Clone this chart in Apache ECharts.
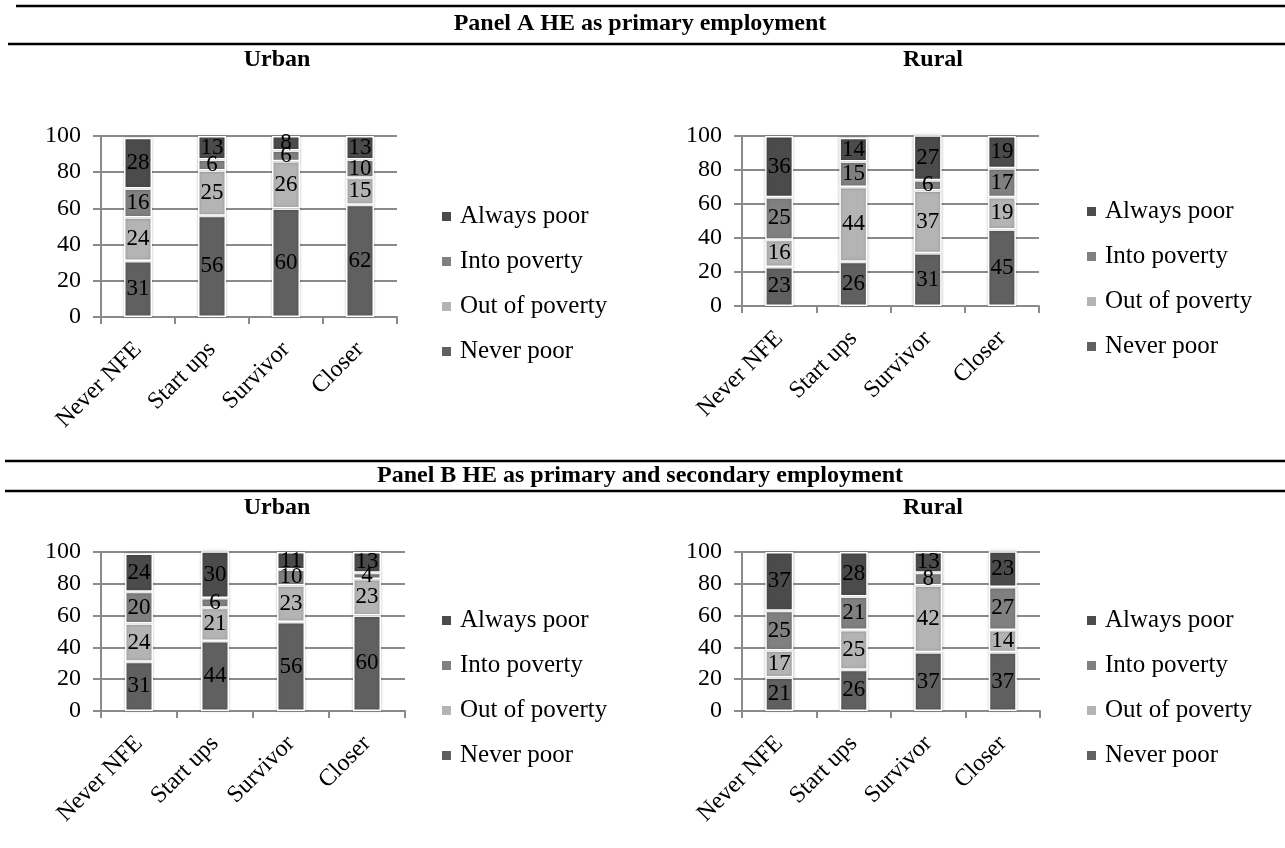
<!DOCTYPE html>
<html>
<head>
<meta charset="utf-8">
<script src="https://cdn.jsdelivr.net/npm/echarts@6/dist/echarts.min.js"></script>
<style>
html,body{margin:0;padding:0;background:#fff;}
#chart{width:1285px;height:848px;}
</style>
</head>
<body>
<div id="chart"></div>
<script>
// ---- Data ----
const categories = ['Never NFE', 'Start ups', 'Survivor', 'Closer'];
const legendNames = ['Always poor', 'Into poverty', 'Out of poverty', 'Never poor'];
const yTicks = [0, 20, 40, 60, 80, 100];

// Panel A, Urban
const aUrbanNever  = [31, 56, 60, 62];
const aUrbanOut    = [24, 25, 26, 15];
const aUrbanInto   = [16, 6, 6, 10];
const aUrbanAlways = [28, 13, 8, 13];
// Panel A, Rural
const aRuralNever  = [23, 26, 31, 45];
const aRuralOut    = [16, 44, 37, 19];
const aRuralInto   = [25, 15, 6, 17];
const aRuralAlways = [36, 14, 27, 19];
// Panel B, Urban
const bUrbanNever  = [31, 44, 56, 60];
const bUrbanOut    = [24, 21, 23, 23];
const bUrbanInto   = [20, 6, 10, 4];
const bUrbanAlways = [24, 30, 11, 13];
// Panel B, Rural
const bRuralNever  = [21, 26, 37, 37];
const bRuralOut    = [17, 25, 42, 14];
const bRuralInto   = [25, 21, 8, 27];
const bRuralAlways = [37, 28, 13, 23];

const panels = [
  {never: aUrbanNever, out: aUrbanOut, into: aUrbanInto, always: aUrbanAlways},
  {never: aRuralNever, out: aRuralOut, into: aRuralInto, always: aRuralAlways},
  {never: bUrbanNever, out: bUrbanOut, into: bUrbanInto, always: bUrbanAlways},
  {never: bRuralNever, out: bRuralOut, into: bRuralInto, always: bRuralAlways}
];

// ---- Styling ----
const FONT = '"Liberation Serif", "DejaVu Serif", serif';
const colors = {
  'Never poor': '#606060',
  'Out of poverty': '#b4b4b4',
  'Into poverty': '#808080',
  'Always poor': '#4b4b4b'
};
const gridColor = '#8a8a8a';

const grids = [
  {left: 101, top: 136, width: 296, height: 181},
  {left: 742, top: 136, width: 297, height: 170},
  {left: 101, top: 552, width: 304, height: 159},
  {left: 742, top: 552, width: 298, height: 159}
];
const legendPos = [
  {left: 440, top: 204},
  {left: 1085, top: 199},
  {left: 440, top: 608},
  {left: 1085, top: 608}
];

const xAxes = grids.map((g, i) => ({
  type: 'category', gridIndex: i, data: categories,
  axisLine: {show: true, lineStyle: {color: gridColor, width: 2}},
  axisTick: {show: true, length: 7, lineStyle: {color: gridColor, width: 2}},
  axisLabel: {rotate: 45, margin: 29, color: '#000', fontFamily: FONT, fontSize: 24, interval: 0}
}));
const yAxes = grids.map((g, i) => ({
  type: 'value', gridIndex: i, min: 0, max: 100, interval: 20,
  axisLine: {show: true, lineStyle: {color: gridColor, width: 2}},
  axisTick: {show: true, length: 8, lineStyle: {color: gridColor, width: 2}},
  splitLine: {show: true, lineStyle: {color: gridColor, width: 2}},
  axisLabel: {margin: 20, color: '#000', fontFamily: FONT, fontSize: 24,
    formatter: v => yTicks.includes(v) ? String(v) : ''}
}));

const series = [];
panels.forEach((p, i) => {
  const order = [
    ['Never poor', p.never],
    ['Out of poverty', p.out],
    ['Into poverty', p.into],
    ['Always poor', p.always]
  ];
  order.forEach(([name, vals]) => {
    series.push({
      name: name, type: 'bar', stack: 'g' + i,
      xAxisIndex: i, yAxisIndex: i,
      barWidth: 28,
      data: vals,
      itemStyle: {color: colors[name], borderColor: '#ffffff', borderWidth: 1.5,
        shadowBlur: 3, shadowColor: 'rgba(0,0,0,0.25)'},
      label: {show: true, position: 'inside', color: '#000', fontFamily: FONT, fontSize: 23},
      emphasis: {disabled: true}
    });
  });
});

const legends = legendPos.map(lp => ({
  orient: 'vertical', left: lp.left, top: lp.top, padding: 0,
  data: legendNames, itemWidth: 11, itemHeight: 11, itemGap: 20,
  icon: 'rect', selectedMode: false,
  textStyle: {color: '#000', fontFamily: FONT, fontSize: 25, padding: [0, 0, 0, 3]}
}));

function hline(x1, x2, y) {
  return {type: 'line', shape: {x1: x1, y1: y, x2: x2, y2: y},
    style: {stroke: '#000', lineWidth: 2.5}, silent: true};
}
function txt(x, y, s, bold, size) {
  return {type: 'text', x: x, y: y, silent: true,
    style: {text: s, fill: '#000', font: (bold ? 'bold ' : '') + size + 'px ' + FONT,
      textAlign: 'center', textVerticalAlign: 'middle'}};
}

const option = {
  backgroundColor: '#ffffff',
  animation: false,
  color: legendNames.map(n => colors[n]),
  grid: grids,
  xAxis: xAxes,
  yAxis: yAxes,
  legend: legends,
  series: series,
  graphic: [
    hline(16, 1285, 6),
    txt(640, 24, 'Panel A HE as primary employment', true, 24),
    hline(8, 1285, 44),
    txt(277, 60, 'Urban', true, 24),
    txt(933, 60, 'Rural', true, 24),
    hline(5, 1285, 461),
    txt(640, 476, 'Panel B HE as primary and secondary employment', true, 24),
    hline(5, 1285, 491),
    txt(277, 508, 'Urban', true, 24),
    txt(933, 508, 'Rural', true, 24)
  ]
};

const chart = echarts.init(document.getElementById('chart'), null, {renderer: 'canvas'});
chart.setOption(option);
</script>
</body>
</html>
